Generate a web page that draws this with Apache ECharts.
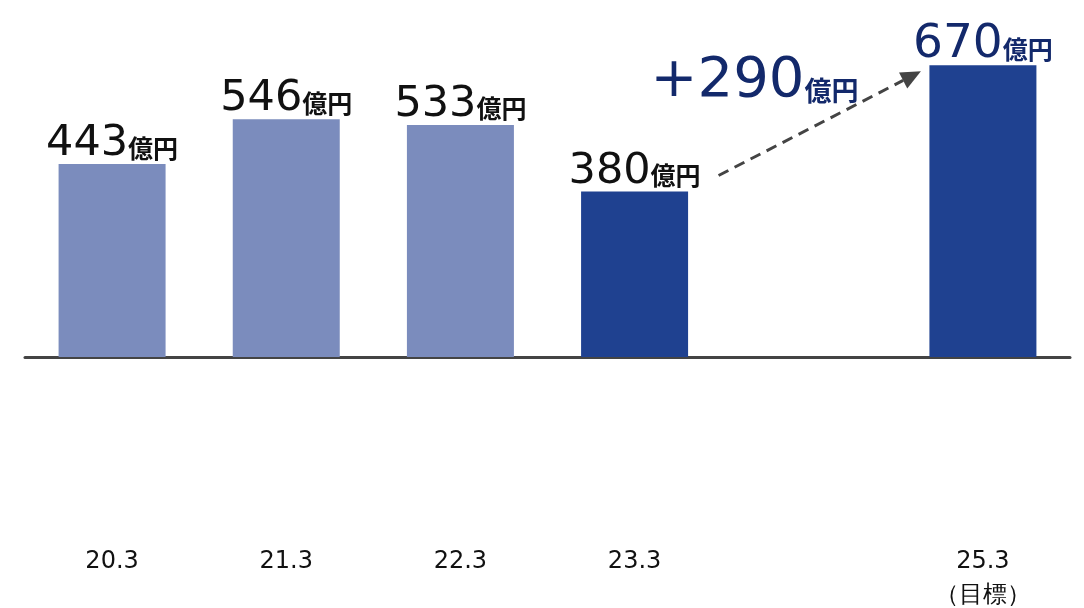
<!DOCTYPE html>
<html>
<head>
<meta charset="utf-8">
<script src="https://cdn.jsdelivr.net/npm/echarts@6/dist/echarts.min.js"></script>
<style>
  html, body { margin: 0; padding: 0; background: #fff; }
  #chart { width: 1084px; height: 608px; }
</style>
</head>
<body>
<div id="chart"></div>
<script>
// Fiscal-year categories (the blank slot leaves room for the growth arrow)
const categories = ['20.3', '21.3', '22.3', '23.3', '', '25.3\n（目標）'];
// Values in 億円 (null = empty slot)
const values = [443, 546, 533, 380, null, 670];
// Past years light, latest and target dark
const barColors = ['#7b8cbd', '#7b8cbd', '#7b8cbd', '#1f4190', null, '#1f4190'];
const labelColors = ['#111', '#111', '#111', '#111', null, '#13296b'];
const labelSizes = [43, 43, 43, 43, null, 47];
// Growth from 23.3 to the 25.3 target
const growthFrom = 3;
const growthTo = 5;
const growthText = '+290';
const unit = '億円';

const NUM_FONT = '"DejaVu Sans", "Noto Sans", sans-serif';
const JP_FONT = '"Noto Sans CJK JP", sans-serif';

const chart = echarts.init(document.getElementById('chart'));

const seriesData = values.map((v, i) => v == null ? null : {
  value: v,
  itemStyle: { color: barColors[i] },
  label: {
    rich: {
      n: { fontSize: labelSizes[i], color: labelColors[i], fontFamily: NUM_FONT, lineHeight: 46 },
      u: { fontSize: 25, fontWeight: 700, color: labelColors[i], fontFamily: JP_FONT, lineHeight: 46, padding: [8, 0, 0, 0] }
    }
  }
});

chart.setOption({
  animation: false,
  grid: { left: 25, right: 14, top: 13, bottom: 251, outerBoundsMode: 'none', containLabel: false },
  xAxis: {
    type: 'category',
    data: categories,
    axisTick: { show: false },
    axisLine: { lineStyle: { color: '#444', width: 3 } },
    axisLabel: {
      margin: 188,
      fontSize: 24,
      lineHeight: 34,
      color: '#111',
      fontFamily: NUM_FONT
    }
  },
  yAxis: {
    type: 'value',
    min: 0,
    max: 790,
    show: false,
    splitLine: { show: false }
  },
  series: [{
    type: 'bar',
    barWidth: 107,
    data: seriesData,
    label: {
      show: true,
      position: 'top',
      distance: -3,
      formatter: p => '{n|' + p.value + '}{u|' + unit + '}'
    }
  }]
});

// Growth arrow and annotation, positioned from the data coordinates
function drawGrowth() {
  const a = chart.convertToPixel({ seriesIndex: 0 }, [growthFrom, values[growthFrom]]);
  const b = chart.convertToPixel({ seriesIndex: 0 }, [growthTo, values[growthTo]]);
  const x1 = a[0] + 84, y1 = a[1] - 16;
  const x2 = b[0] - 62, y2 = b[1] + 6;
  const ang = Math.atan2(y2 - y1, x2 - x1);
  const head = 20, hw = 9;
  const bx = x2 - head * Math.cos(ang), by = y2 - head * Math.sin(ang);
  const px = -Math.sin(ang), py = Math.cos(ang);
  chart.setOption({
    graphic: [
      {
        type: 'line',
        shape: { x1: x1, y1: y1, x2: bx, y2: by },
        style: { stroke: '#444', lineWidth: 3, lineDash: [11, 7] }
      },
      {
        type: 'polygon',
        shape: { points: [[x2, y2], [bx + px * hw, by + py * hw], [bx - px * hw, by - py * hw]] },
        style: { fill: '#444' }
      },
      {
        type: 'text',
        left: x1 - 68,
        top: b[1] - 12,
        style: {
          text: '{n|' + growthText + '}{u|' + unit + '}',
          rich: {
            n: { fontSize: 56, fill: '#13296b', fontFamily: NUM_FONT, lineHeight: 64 },
            u: { fontSize: 27, fontWeight: 700, fill: '#13296b', fontFamily: JP_FONT, lineHeight: 64, padding: [18, 0, 0, 0] }
          }
        }
      }
    ]
  });
}
drawGrowth();
</script>
</body>
</html>
